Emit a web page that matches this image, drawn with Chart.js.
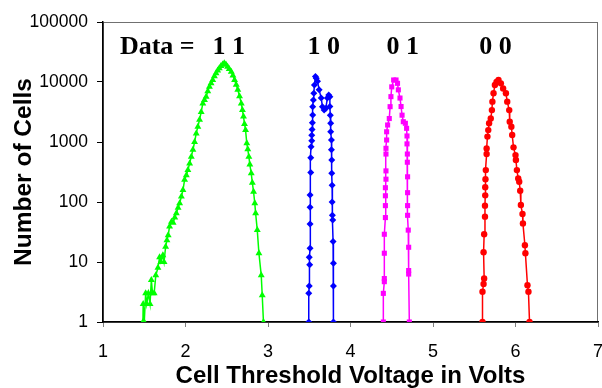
<!DOCTYPE html>
<html>
<head>
<meta charset="utf-8">
<script src="https://cdn.jsdelivr.net/npm/chart.js@4/dist/chart.umd.min.js"></script>
<style>
html,body{margin:0;padding:0;background:#fff;}
#wrap{width:602px;height:388px;}
</style>
</head>
<body>
<div id="wrap"><canvas id="c" width="602" height="388"></canvas></div>
<script>
// ---- data ----
const yTickValues = [1, 10, 100, 1000, 10000, 100000];
const xTickValues = [1, 2, 3, 4, 5, 6, 7];

const greenV = [1.484,1.487,1.50,1.517,1.53,1.55,1.57,1.586,1.60,1.62,1.64,1.666,1.686,1.70,1.726,1.74,1.759,1.775,1.79,1.807,1.83,1.85,1.87,1.889,1.91,1.929,1.95,1.969,1.989,2.01,2.029,2.05,2.07,2.09,2.11,2.13,2.15,2.17,2.19,2.21,2.23,2.25,2.27,2.29,2.31,2.33,2.35,2.37,2.39,2.41,2.43,2.45,2.47,2.49,2.51,2.53,2.555,2.575,2.595,2.615,2.634,2.655,2.676,2.69,2.703,2.715,2.728,2.743,2.755,2.768,2.78,2.797,2.81,2.825,2.84,2.85,2.87,2.89,2.918,2.93,2.945];
const greenN = [1,2,1,3,2,3,2,5,3,3,6,8,12,10,13,10,18,23,28,39,47,45,55,65,80,95,123,158,234,280,340,440,570,740,1000,1390,1800,2340,3160,4400,5000,5700,7000,8300,9500,10800,12500,14000,15500,17000,18500,19500,20500,19500,18000,16500,14800,12800,10800,9000,7400,5800,4400,3400,2650,2000,1580,950,760,570,420,300,210,148,95,65,34,14,6,2.8,1];

const blueV = [3.494,3.494,3.50,3.505,3.50,3.51,3.51,3.51,3.51,3.518,3.518,3.522,3.53,3.53,3.534,3.538,3.542,3.542,3.55,3.555,3.563,3.575,3.585,3.60,3.62,3.645,3.66,3.68,3.70,3.72,3.736,3.75,3.75,3.755,3.76,3.76,3.769,3.769,3.773,3.773,3.777,3.777,3.78,3.785,3.789,3.793,3.793,3.793];
const blueN = [1,3,4,9,12,17,43,82,131,309,545,830,1050,1290,1620,2090,2820,3880,5000,6500,8900,12300,11500,10300,7400,5400,3880,3400,3600,5400,6050,5700,3900,2800,2050,1480,1080,740,500,300,190,100,60,50,22,9.5,4,1];

const magentaV = [4.398,4.398,4.41,4.41,4.41,4.41,4.423,4.423,4.423,4.423,4.43,4.43,4.43,4.43,4.438,4.438,4.45,4.47,4.48,4.49,4.50,4.523,4.552,4.57,4.58,4.60,4.613,4.625,4.64,4.665,4.68,4.685,4.685,4.689,4.689,4.692,4.692,4.692,4.692,4.70,4.705,4.705,4.705,4.713];
const magentaN = [1,3,4.7,5.3,14,29,55,87,127,173,240,330,630,785,1080,1480,1920,2460,3880,5700,8300,10800,10800,9500,7400,5400,3900,2800,2180,2050,1690,1260,930,630,460,263,143,87,60,34,17.6,7.2,6.3,1];

const redV = [5.60,5.60,5.613,5.62,5.613,5.62,5.63,5.63,5.633,5.633,5.636,5.64,5.65,5.65,5.66,5.67,5.68,5.70,5.714,5.72,5.734,5.75,5.77,5.794,5.823,5.85,5.884,5.90,5.924,5.93,5.95,5.96,5.976,6.0,6.005,6.017,6.033,6.045,6.057,6.065,6.085,6.09,6.114,6.12,6.145,6.157,6.17];
const redN = [1,3.2,4.3,5.3,14.5,29,57,87,129,176,240,340,630,780,1230,1580,2050,2460,3400,4700,6500,8900,10000,10800,9500,7800,6500,4700,3400,2180,1800,1310,815,605,500,340,247,218,154,89,63,44,19,14,4.1,3.2,1];

// annotation texts (x in volts, y in cells)
const noteTexts = ["Data =", "1 1", "1 0", "0 1", "0 0"];
const noteV = [1.205, 2.328, 3.478, 4.435, 5.56];
const noteN = 29300;

const xTitle = "Cell Threshold Voltage in Volts";
const yTitle = "Number of Cells";

// ---- build ----
const pts = (xs, ys) => xs.map((x, i) => ({x: x, y: ys[i]}));

function series(xs, ys, color, style, r) {
  return {
    data: pts(xs, ys),
    showLine: true,
    borderColor: color,
    backgroundColor: color,
    borderWidth: 1.5,
    pointStyle: style,
    pointRadius: r,
    pointBorderWidth: 0,
    pointBackgroundColor: color,
    tension: 0
  };
}

const framePlugin = {
  id: 'frame',
  beforeDraw(chart) {
    const {ctx, chartArea: a} = chart;
    ctx.save();
    ctx.strokeStyle = '#707070';
    ctx.lineWidth = 1;
    ctx.strokeRect(a.left + 0.5, a.top + 0.5, a.right - a.left - 1, a.bottom - a.top);
    ctx.restore();
  }
};

const notesPlugin = {
  id: 'notes',
  afterDatasetsDraw(chart) {
    const {ctx, scales} = chart;
    ctx.save();
    ctx.fillStyle = '#000';
    ctx.font = 'bold 26px "Liberation Serif", "Times New Roman", serif';
    ctx.textAlign = 'left';
    ctx.textBaseline = 'alphabetic';
    noteTexts.forEach((t, i) => {
      ctx.fillText(t, scales.x.getPixelForValue(noteV[i]), scales.y.getPixelForValue(noteN));
    });
    ctx.restore();
  }
};

new Chart(document.getElementById('c'), {
  type: 'scatter',
  data: {
    datasets: [
      series(greenV, greenN, '#00ff00', 'triangle', 4),
      series(blueV, blueN, '#0000ff', 'rectRot', 3.5),
      series(magentaV, magentaN, '#ff00ff', 'rect', 3.6),
      series(redV, redN, '#ff0000', 'circle', 3.2)
    ]
  },
  options: {
    responsive: false,
    animation: false,
    devicePixelRatio: 1,
    layout: {padding: {top: 22, right: 3, left: 0, bottom: 0}},
    plugins: {legend: {display: false}, tooltip: {enabled: false}},
    scales: {
      x: {
        type: 'linear', min: 1, max: 7,
        afterBuildTicks(s) { s.ticks = xTickValues.map(v => ({value: v})); },
        afterFit(s) { s.height = 66; s.paddingLeft = 0; s.paddingRight = 3; },
        ticks: {color: '#000', padding: 14, maxRotation: 0,
          font: {family: '"Liberation Sans", Arial, sans-serif', size: 18}},
        grid: {drawOnChartArea: false, drawTicks: true, tickLength: 5, color: '#808080'},
        border: {color: '#000', width: 1.5},
        title: {display: true, text: xTitle, color: '#000', padding: {top: 0, bottom: 0},
          font: {family: '"Liberation Sans", Arial, sans-serif', size: 24, weight: 'bold', lineHeight: 1}}
      },
      y: {
        type: 'logarithmic', min: 1, max: 100000,
        afterBuildTicks(s) { s.ticks = yTickValues.map(v => ({value: v})); },
        afterFit(s) { s.width = 103; },
        ticks: {color: '#000', padding: 9, callback: v => String(v),
          font: {family: '"Liberation Sans", Arial, sans-serif', size: 17.5}},
        grid: {drawOnChartArea: false, drawTicks: true, tickLength: 6, color: '#000'},
        border: {color: '#000', width: 1.5},
        title: {display: true, text: yTitle, color: '#000', padding: {top: 12, bottom: 0},
          font: {family: '"Liberation Sans", Arial, sans-serif', size: 24.5, weight: 'bold', lineHeight: 1}}
      }
    }
  },
  plugins: [framePlugin, notesPlugin]
});
</script>
</body>
</html>
